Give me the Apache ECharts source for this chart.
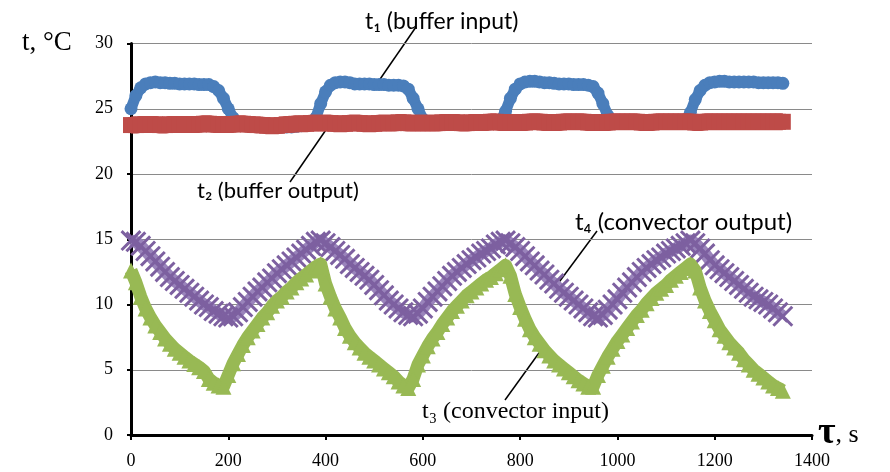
<!DOCTYPE html>
<html>
<head>
<meta charset="utf-8">
<script src="https://cdn.jsdelivr.net/npm/echarts@6/dist/echarts.min.js"></script>
<style>html,body{margin:0;padding:0;background:#fff}#c{width:890px;height:472px}</style>
</head>
<body>
<div id="c"></div>
<script>
// Time, s
var times = [
  0,10,20,30,40,50,60,70,80,90,
  100,110,120,130,140,150,160,170,180,190,
  200,210,220,230,240,250,260,270,280,290,
  300,310,320,330,340,350,360,370,380,390,
  400,410,420,430,440,450,460,470,480,490,
  500,510,520,530,540,550,560,570,580,590,
  600,610,620,630,640,650,660,670,680,690,
  700,710,720,730,740,750,760,770,780,790,
  800,810,820,830,840,850,860,870,880,890,
  900,910,920,930,940,950,960,970,980,990,
  1000,1010,1020,1030,1040,1050,1060,1070,1080,1090,
  1100,1110,1120,1130,1140,1150,1160,1170,1180,1190,
  1200,1210,1220,1230,1240,1250,1260,1270,1280,1290,
  1300,1310,1320,1330,1340
];
// t1 (buffer input)
var t1 = [
  25.0,26.0,26.6,26.9,27.0,27.05,27.0,27.0,26.95,26.95,
  26.9,26.9,26.9,26.9,26.85,26.85,26.85,26.7,26.4,25.8,
  25.0,24.3,23.9,23.8,23.8,23.8,23.75,23.7,23.65,23.6,
  23.6,23.6,23.6,23.6,23.65,23.7,23.8,23.9,24.3,25.4,
  26.3,26.8,27.0,27.05,27.05,27.0,26.9,26.9,26.9,26.9,
  26.85,26.85,26.85,26.8,26.8,26.8,26.75,26.5,25.8,25.0,
  24.2,23.9,23.85,23.85,23.85,23.85,23.85,23.85,23.85,23.85,
  23.85,23.85,23.85,23.85,23.85,23.9,24.1,24.8,25.8,26.5,
  26.9,27.05,27.1,27.1,27.05,27.0,27.0,26.95,26.9,26.9,
  26.9,26.85,26.85,26.85,26.8,26.7,26.2,25.4,24.5,24.0,
  23.9,23.9,23.9,23.9,23.9,23.9,23.9,23.9,23.9,23.9,
  23.9,23.9,23.9,23.9,24.1,24.7,25.7,26.4,26.8,27.0,
  27.05,27.1,27.1,27.05,27.05,27.05,27.05,27.05,27.05,27.0,
  27.0,27.0,27.0,27.0,26.95
];
// t2 (buffer output)
var t2 = [
  23.75,23.75,23.8,23.8,23.8,23.8,23.75,23.75,23.8,23.8,
  23.8,23.8,23.8,23.8,23.8,23.85,23.85,23.8,23.8,23.8,
  23.8,23.8,23.85,23.85,23.8,23.8,23.75,23.75,23.7,23.7,
  23.7,23.75,23.8,23.8,23.85,23.85,23.85,23.9,23.9,23.9,
  23.9,23.9,23.85,23.85,23.85,23.9,23.9,23.9,23.85,23.85,
  23.85,23.9,23.9,23.9,23.9,23.95,23.95,23.9,23.9,23.9,
  23.9,23.9,23.9,23.9,23.95,23.95,23.95,23.95,23.9,23.9,
  23.95,23.95,23.95,23.95,24.0,24.0,23.95,23.95,23.95,23.95,
  23.95,23.95,24.0,24.0,24.0,23.95,23.95,23.95,23.95,24.0,
  24.0,24.0,24.0,24.0,23.95,23.95,23.95,23.95,23.95,24.0,
  24.0,24.0,24.0,24.0,24.0,23.95,23.95,23.95,24.0,24.0,
  24.0,24.0,24.0,24.0,24.0,24.0,23.95,23.95,24.0,24.0,
  24.0,24.0,24.0,24.0,24.0,24.0,24.0,24.0,24.0,24.0,
  24.0,24.0,24.0,24.0,24.0
];
// t3 (convector input)
var t3 = [
  12.6,11.7,10.6,9.7,9.0,8.4,7.9,7.4,7.0,6.6,
  6.3,6.0,5.7,5.45,5.2,4.9,4.3,4.0,3.8,3.7,
  4.6,5.5,6.2,6.9,7.5,8.0,8.5,9.0,9.4,9.9,
  10.3,10.6,11.0,11.3,11.7,12.0,12.3,12.6,12.9,13.1,
  11.6,10.6,9.7,9.0,8.2,7.6,7.1,6.7,6.3,6.0,
  5.7,5.4,5.1,4.8,4.5,4.1,3.8,3.6,4.3,5.4,
  6.1,6.8,7.4,7.9,8.5,9.0,9.5,9.9,10.3,10.7,
  11.0,11.3,11.6,11.9,12.1,12.4,12.7,13.0,12.2,10.8,
  9.8,8.9,8.1,7.5,7.0,6.5,6.1,5.7,5.4,5.1,
  4.8,4.5,4.2,3.95,3.7,3.7,4.6,5.3,6.0,6.6,
  7.2,7.7,8.2,8.7,9.2,9.6,10.1,10.5,10.9,11.2,
  11.5,11.9,12.2,12.5,12.8,13.1,12.6,11.3,10.3,9.5,
  8.8,8.1,7.6,7.1,6.7,6.3,5.8,5.4,5.0,4.7,
  4.4,4.1,3.8,3.6,3.4
];
// t4 (convector output)
var t4 = [
  14.9,14.8,14.5,14.1,13.7,13.3,12.9,12.5,12.1,11.8,
  11.5,11.2,10.9,10.6,10.3,10.0,9.8,9.5,9.3,9.1,
  9.0,9.1,9.4,9.8,10.2,10.6,11.0,11.3,11.7,12.0,
  12.4,12.7,13.0,13.3,13.6,13.9,14.2,14.5,14.8,14.9,
  14.7,14.4,14.1,13.8,13.5,13.1,12.8,12.5,12.2,11.9,
  11.5,11.1,10.7,10.3,10.0,9.7,9.4,9.2,9.1,9.3,
  9.7,10.2,10.6,11.0,11.4,11.8,12.2,12.5,12.8,13.1,
  13.4,13.6,13.9,14.1,14.3,14.6,14.8,14.9,14.7,14.4,
  14.1,13.7,13.3,13.0,12.6,12.3,11.9,11.6,11.2,10.9,
  10.6,10.3,10.0,9.7,9.4,9.1,9.0,9.2,9.6,10.0,
  10.4,10.9,11.3,11.7,12.1,12.5,12.8,13.1,13.4,13.6,
  13.9,14.1,14.3,14.5,14.7,14.9,14.7,14.3,13.9,13.4,
  13.0,12.7,12.4,12.1,11.8,11.5,11.2,10.9,10.6,10.4,
  10.2,10.0,9.7,9.4,9.1
];
var xTicks = [0,200,400,600,800,1000,1200,1400];
var yTicks = [0,5,10,15,20,25,30];

function pairs(v){ var out=[]; for(var i=0;i<times.length && i<v.length;i++) out.push([times[i], v[i]]); return out; }

var serif = "Liberation Serif";
var sans = "Lato";
var crossPath = 'path://M0,1 L1,0 L5,4 L9,0 L10,1 L6,5 L10,9 L9,10 L5,6 L1,10 L0,9 L4,5 Z';

var chart = echarts.init(document.getElementById('c'), null, {renderer:'canvas'});
chart.setOption({
  animation:false,
  backgroundColor:'#fff',
  grid:{left:131,right:78,top:43.5,bottom:37,containLabel:false},
  xAxis:{
    type:'value', min:xTicks[0], max:xTicks[xTicks.length-1], interval:200,
    axisLine:{show:true,onZero:false,lineStyle:{color:'#000',width:3}},
    axisTick:{show:true,length:5,lineStyle:{color:'#000',width:2}},
    axisLabel:{fontFamily:serif,fontSize:18,color:'#000',margin:17,formatter:function(v){return String(v);}},
    splitLine:{show:false}
  },
  yAxis:{
    type:'value', min:yTicks[0], max:yTicks[yTicks.length-1], interval:5,
    axisLine:{show:true,lineStyle:{color:'#000',width:3}},
    axisTick:{show:true,length:4,lineStyle:{color:'#000',width:2}},
    axisLabel:{fontFamily:serif,fontSize:18,color:'#000',margin:18,formatter:function(v){return String(v);}},
    splitLine:{show:true,lineStyle:{color:'#8a8a8a',width:1}}
  },
  series:[
    {name:'t1',type:'line',data:pairs(t1),z:2,showSymbol:true,showAllSymbol:true,
     symbol:'circle',symbolSize:13,itemStyle:{color:'#4a7ebb'},
     lineStyle:{color:'#4a7ebb',width:11,cap:'round',join:'round'}},
    {name:'t2',type:'line',data:pairs(t2),z:3,showSymbol:true,showAllSymbol:true,
     symbol:'rect',symbolSize:16,itemStyle:{color:'#be4b48'},
     lineStyle:{color:'#be4b48',width:17,join:'round'}},
    {name:'t4',type:'line',data:pairs(t4),z:4,showSymbol:true,showAllSymbol:true,
     symbol:crossPath,symbolSize:21,itemStyle:{color:'#7d60a0'},
     lineStyle:{color:'#9a84bb',width:12,join:'round'}},
    {name:'t3',type:'line',data:pairs(t3),z:5,showSymbol:true,showAllSymbol:true,
     symbol:'triangle',symbolSize:16,itemStyle:{color:'#98b954'},
     lineStyle:{color:'#98b954',width:13,join:'round'}}
  ],
  graphic:[
    {type:'text',left:22,top:29,style:{text:'t, °C',fontFamily:serif,fontSize:27,fill:'#000'}},
    {type:'text',left:818,top:414,style:{text:'{a|τ}{b|, s}',rich:{a:{fontFamily:serif,fontSize:38,fontWeight:'bold',fill:'#000'},b:{fontFamily:serif,fontSize:26,fill:'#000',padding:[4,0,0,0]}}}},
    {type:'line',shape:{x1:416,y1:27,x2:376,y2:85},style:{stroke:'#000',lineWidth:1.5}},
    {type:'line',shape:{x1:290,y1:182,x2:330,y2:124},style:{stroke:'#000',lineWidth:1.5}},
    {type:'line',shape:{x1:597,y1:231,x2:554,y2:289},style:{stroke:'#000',lineWidth:1.5}},
    {type:'line',shape:{x1:505,y1:400,x2:544,y2:346},style:{stroke:'#000',lineWidth:1.5}},
    {type:'text',left:365,top:10,style:{text:'t\u2081 (buffer input)',fontFamily:sans,fontSize:23,fill:'#000'}},
    {type:'text',left:197,top:180,style:{text:'t\u2082 (buffer output)',fontFamily:sans,fontSize:22,fill:'#000'}},
    {type:'text',left:575,top:210,style:{text:'t\u2084 (convector output)',fontFamily:sans,fontSize:24,fill:'#000'}},
    {type:'text',left:422,top:400,style:{text:'t\u2083 (convector input)',fontFamily:serif,fontSize:24,fill:'#000'}}
  ]
});
</script>
</body>
</html>
